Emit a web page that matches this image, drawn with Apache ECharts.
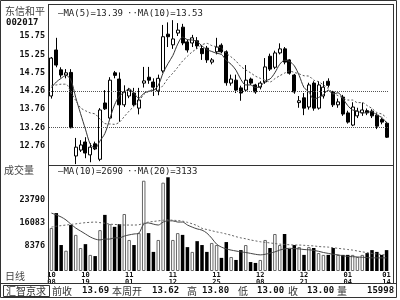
<!DOCTYPE html>
<html><head><meta charset="utf-8">
<script src="https://cdn.jsdelivr.net/npm/echarts@6/dist/echarts.min.js"></script>
<style>html,body{margin:0;padding:0;background:#fff}#c{width:400px;height:300px}</style>
</head><body><div id="c"></div>
<script>
const categories = ['10/08','10/11','10/12','10/13','10/14','10/15','10/18','10/19','10/20','10/21','10/22','10/25','10/26','10/27','10/28','10/29',
'11/01','11/02','11/03','11/04','11/05','11/08','11/09','11/10','11/11','11/12','11/15','11/16','11/17','11/18','11/19','11/22','11/23','11/24','11/25','11/26','11/29','11/30',
'12/01','12/02','12/03','12/06','12/07','12/08','12/09','12/10','12/13','12/14','12/15','12/16','12/17','12/20','12/21','12/22','12/23','12/24','12/27','12/28','12/29','12/30','12/31',
'01/04','01/05','01/06','01/07','01/10','01/11','01/12','01/13','01/14'];
const openV  = [14.12,15.37,14.83,14.69,14.76,12.49,12.65,12.87,12.52,12.82,12.40,13.93,13.52,14.75,14.58,13.88,14.12,14.20,13.79,14.47,14.63,14.50,14.26,14.80,15.80,15.51,15.83,15.99,15.59,15.56,15.62,15.41,15.42,15.04,15.32,15.50,15.32,14.47,14.55,14.34,14.28,14.58,14.42,14.36,14.50,15.20,14.90,15.29,15.40,15.10,14.69,13.94,14.07,13.82,14.47,13.79,14.12,14.52,14.23,13.88,14.09,13.66,13.33,13.58,13.66,13.72,13.71,13.60,13.48,13.38];
const closeV = [15.15,14.96,14.69,14.75,13.26,12.73,12.79,12.57,12.73,12.68,13.74,13.77,14.55,14.68,13.88,14.23,14.28,13.88,14.01,14.53,14.55,14.36,14.60,15.73,15.73,15.67,15.91,15.56,15.37,15.70,15.48,15.27,15.10,15.10,15.45,15.32,14.48,14.58,14.28,14.20,14.55,14.47,14.23,14.47,14.91,14.85,15.29,15.40,15.04,14.74,14.23,13.99,13.79,14.42,13.79,14.42,14.36,14.41,13.88,13.96,13.63,13.41,13.82,13.71,13.74,13.66,13.58,13.30,13.41,13.00];
const lowV   = [14.05,14.90,14.62,14.60,13.24,12.27,12.60,12.43,12.32,12.65,12.35,13.74,13.48,14.60,13.42,13.82,14.06,13.84,13.62,14.35,14.45,14.12,14.14,14.75,15.45,15.40,15.75,15.50,15.30,15.45,15.40,15.10,15.02,14.98,15.25,15.28,14.40,14.40,14.20,13.99,14.25,14.42,14.18,14.30,14.45,14.80,14.85,15.25,14.98,14.70,14.18,13.80,13.60,13.75,13.72,13.75,14.05,14.35,13.82,13.80,13.58,13.37,13.30,13.52,13.58,13.60,13.52,13.22,13.35,12.98];
const highV  = [15.18,15.70,14.90,14.85,14.85,12.98,12.92,13.00,12.84,12.88,13.79,14.28,14.63,14.80,14.76,14.41,14.34,14.34,14.34,14.91,14.91,14.60,14.70,16.05,16.12,16.18,16.10,16.08,15.65,15.78,15.72,15.50,15.48,15.15,15.70,15.55,15.36,14.70,14.70,14.40,14.96,14.62,14.45,14.52,15.15,15.27,15.35,15.55,15.45,15.12,14.72,14.12,14.20,14.48,14.52,14.52,14.52,14.60,14.26,14.05,14.15,13.72,13.95,13.80,13.94,13.78,13.76,13.65,13.52,13.42];
const ma5    = [14.35,14.50,14.60,14.68,14.56,14.08,13.64,13.22,12.81,12.70,12.90,13.10,13.49,13.88,14.12,14.22,14.32,14.19,14.06,14.19,14.25,14.27,14.41,14.75,15.00,15.22,15.53,15.72,15.65,15.64,15.60,15.48,15.38,15.33,15.28,15.25,15.09,14.98,14.82,14.57,14.42,14.42,14.35,14.38,14.53,14.58,14.75,14.98,15.09,15.06,14.94,14.68,14.35,14.23,14.04,14.08,14.16,14.28,14.17,14.21,14.05,13.86,13.74,13.71,13.66,13.67,13.70,13.60,13.54,13.39];
const ma10   = [14.40,14.42,14.44,14.44,14.22,14.00,13.80,13.72,13.66,13.63,13.49,13.37,13.36,13.35,13.41,13.56,13.71,13.84,13.97,14.16,14.24,14.30,14.30,14.41,14.60,14.74,14.90,15.07,15.20,15.32,15.41,15.51,15.55,15.49,15.46,15.42,15.28,15.18,15.07,14.92,14.83,14.75,14.66,14.60,14.55,14.50,14.59,14.67,14.74,14.80,14.76,14.72,14.67,14.66,14.55,14.51,14.42,14.32,14.20,14.13,14.07,14.01,14.01,13.94,13.94,13.86,13.78,13.67,13.63,13.53];
const volume = [14400,19400,8700,6800,15400,12100,7700,9000,5400,5000,13700,18800,15700,14800,15700,19100,10400,8700,12700,30250,12700,6400,10400,29600,31400,10400,12700,12100,8000,6400,10000,8700,6400,9400,8700,4400,9700,4700,3700,7000,8700,3000,2700,3700,10400,7700,12400,8700,12400,7400,8700,8000,5400,8000,7700,6000,5400,5400,7700,5400,5400,5400,5400,4700,5400,6000,7000,6400,5400,7000];
const volMa10 = [19400,18800,18100,17100,15700,14400,13400,12400,11400,10700,10400,10700,10700,11100,11100,11700,12100,12400,12700,15700,16100,15700,15400,16400,16800,16800,16400,16400,15400,14700,14100,13700,12700,11000,9000,8000,7400,7000,6700,6400,6200,5900,5600,5400,5600,6000,6400,7000,7400,7600,7500,7400,7200,7100,6900,6600,6200,5900,5600,5400,5100,4900,4800,4700,4600,4500,4400,4400,4400,4400];
const volMa20 = [14700,15000,15200,15400,15600,15800,16000,16200,16300,16400,16200,16000,15700,15600,15500,15400,15400,15400,15500,16000,16400,16600,16800,17000,17100,17000,16900,16700,16300,15800,15200,14300,13900,13500,13100,12800,12400,12000,11500,11100,10800,10400,10100,9800,9600,9400,9200,9000,8900,8800,8700,8700,8600,8500,8400,8200,8100,8000,7800,7600,7400,7200,7000,6700,6400,6200,5900,5700,5500,5400];
const priceTicks = [15.75,15.25,14.75,14.26,13.76,13.26,12.76];
const refLines = [14.26,13.26];
const volTicks = [23790,16083,8376];
const dateTicks = ['10/08','10/19','11/01','11/12','11/25','12/08','12/21','01/04','01/14'];
const infoLabels = ['前收','本周开','高','低','收','量'];
const infoValues = ['13.69','13.62','13.80','13.00','13.00','15998'];

const MONO = '"DejaVu Sans Mono", monospace';
const CJK = '"Noto Sans CJK SC", sans-serif';

const candleData = categories.map((_, i) => [openV[i], closeV[i], lowV[i], highV[i]]);
const volData = volume.map((v, i) => {
  const up = closeV[i] >= openV[i];
  return { value: v, itemStyle: up ? { color: '#fff', borderColor: '#666', borderWidth: 1 } : { color: '#000', borderColor: '#000', borderWidth: 0 } };
});

function txt(x, y, s, font, opts) {
  return Object.assign({ type: 'text', x: x, y: y, silent: true, z: 100,
    style: Object.assign({ text: s, font: font, fill: '#222', textVerticalAlign: 'middle' }, opts || {}) });
}
function ln(x1, y1, x2, y2, c) {
  return { type: 'line', silent: true, z: 90, shape: { x1: x1, y1: y1, x2: x2, y2: y2 }, style: { stroke: c || '#333', lineWidth: 1 } };
}

const infoX = [[52, 82], [112, 152], [187, 202], [238, 257], [288, 307], [337, 367]];
const graphics = [
  { type: 'rect', silent: true, z: 90, shape: { x: 0.5, y: 0.5, width: 396, height: 297 }, style: { fill: null, stroke: '#333', lineWidth: 1 } },
  ln(48.5, 4, 48.5, 283),
  ln(48, 4.5, 394, 4.5),
  ln(48, 165.5, 394, 165.5),
  ln(393.5, 4, 393.5, 283),
  ln(0, 283.5, 397, 283.5),
  { type: 'rect', silent: true, z: 90, shape: { x: 3.5, y: 285.5, width: 46, height: 11 }, style: { fill: null, stroke: '#333', lineWidth: 1 } },
  txt(5, 11.5, '东信和平', '10px ' + CJK, { fill: '#444' }),
  txt(6, 23, '002017', 'bold 9px ' + MONO, { fill: '#111' }),
  txt(58, 13.5, '—MA(5)=13.39', '9px ' + MONO),
  txt(127, 13.5, '··MA(10)=13.53', '9px ' + MONO),
  txt(4, 170, '成交量', '10px ' + CJK, { fill: '#444' }),
  txt(58, 172, '—MA(10)=2690', '9px ' + MONO),
  txt(127, 172, '··MA(20)=3133', '9px ' + MONO),
  txt(5, 276, '日线', '10px ' + CJK, { fill: '#444' }),
  txt(6, 291, '汇智京求', '10px ' + CJK, { fill: '#333' })
];
infoLabels.forEach((l, k) => {
  graphics.push(txt(infoX[k][0], 291, l, '10px ' + CJK, { fill: '#333' }));
  graphics.push(txt(infoX[k][1], 291, infoValues[k], 'bold 9px ' + MONO, { fill: '#111' }));
});

const chart = echarts.init(document.getElementById('c'), null, { renderer: 'canvas' });
chart.setOption({
  animation: false,
  backgroundColor: '#fff',
  grid: [
    { left: 49, top: 5, width: 340, height: 160 },
    { left: 49, top: 165, width: 340, height: 106 }
  ],
  xAxis: [
    { type: 'category', gridIndex: 0, data: categories, boundaryGap: true,
      axisLine: { show: false }, axisTick: { show: false }, axisLabel: { show: false }, splitLine: { show: false } },
    { type: 'category', gridIndex: 1, data: categories, boundaryGap: true,
      axisLine: { show: false }, axisTick: { show: false }, splitLine: { show: false },
      axisLabel: { interval: (idx, val) => dateTicks.indexOf(val) >= 0, margin: 1,
        formatter: v => v.replace('/', '\n'), fontFamily: MONO, fontSize: 7, fontWeight: 'bold', lineHeight: 7, color: '#111' } }
  ],
  yAxis: [
    { type: 'value', gridIndex: 0, min: 12.245, max: 16.592, scale: true,
      axisLine: { show: false }, axisTick: { show: false }, splitLine: { show: false },
      axisLabel: { customValues: priceTicks, formatter: v => Number(v).toFixed(2), margin: 4,
        fontFamily: MONO, fontSize: 8.5, fontWeight: 'bold', color: '#111' } },
    { type: 'value', gridIndex: 1, min: 0, max: 35515,
      axisLine: { show: false }, axisTick: { show: false }, splitLine: { show: false },
      axisLabel: { customValues: volTicks, formatter: v => String(Math.round(v)), margin: 4,
        fontFamily: MONO, fontSize: 8.5, fontWeight: 'bold', color: '#111' } }
  ],
  series: [
    { type: 'candlestick', xAxisIndex: 0, yAxisIndex: 0, data: candleData, barWidth: 3.5,
      itemStyle: { color: '#fff', color0: '#000', borderColor: '#000', borderColor0: '#000', borderWidth: 1 },
      markLine: { silent: true, symbol: 'none', label: { show: false },
        lineStyle: { type: 'dotted', color: '#555', width: 1 },
        data: refLines.map(v => ({ yAxis: v })) } },
    { type: 'line', xAxisIndex: 0, yAxisIndex: 0, data: ma5, showSymbol: false, smooth: 0.3,
      lineStyle: { color: '#333', width: 1 }, z: 3 },
    { type: 'line', xAxisIndex: 0, yAxisIndex: 0, data: ma10, showSymbol: false, smooth: 0.3,
      lineStyle: { color: '#555', width: 1, type: [2, 2] }, z: 3 },
    { type: 'bar', xAxisIndex: 1, yAxisIndex: 1, data: volData, barWidth: 3.5 },
    { type: 'line', xAxisIndex: 1, yAxisIndex: 1, data: volMa10, showSymbol: false, smooth: 0.3,
      lineStyle: { color: '#444', width: 1 }, z: 3 },
    { type: 'line', xAxisIndex: 1, yAxisIndex: 1, data: volMa20, showSymbol: false, smooth: 0.3,
      lineStyle: { color: '#666', width: 1, type: [2, 2] }, z: 3 }
  ],
  graphic: graphics
});
</script></body></html>
